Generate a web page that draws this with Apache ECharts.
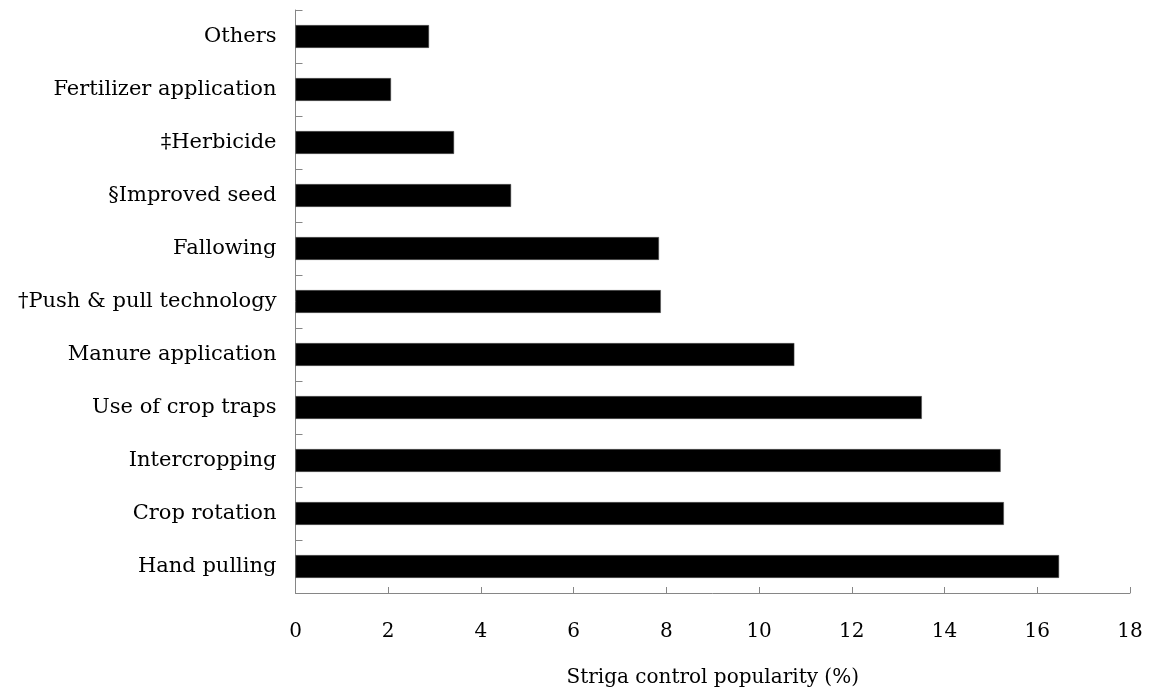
<!DOCTYPE html>
<html>
<head>
<meta charset="utf-8">
<script src="https://cdn.jsdelivr.net/npm/echarts@6/dist/echarts.min.js"></script>
<style>
html,body{margin:0;padding:0;background:#fff;}
#chart{width:1149px;height:687px;}
</style>
</head>
<body>
<div id="chart"></div>
<script>
const categories = ["Others","Fertilizer application","\u2021Herbicide","\u00a7Improved seed","Fallowing","\u2020Push & pull technology","Manure application","Use of crop traps","Intercropping","Crop rotation","Hand pulling"];
const values = [2.88, 2.06, 3.42, 4.65, 7.84, 7.88, 10.76, 13.51, 15.21, 15.28, 16.47];
const xTicks = {min: 0, max: 18, interval: 2};
const xTitle = "Striga control popularity (%)";

const font = "'DejaVu Serif', 'Liberation Serif', serif";
const chart = echarts.init(document.getElementById('chart'), null, {renderer: 'canvas'});
chart.setOption({
  animation: false,
  backgroundColor: '#fff',
  grid: {left: 295.5, right: 19, top: 10, bottom: 94, containLabel: false, outerBoundsMode: 'none'},
  xAxis: {
    type: 'value', min: xTicks.min, max: xTicks.max, interval: xTicks.interval,
    name: xTitle, nameLocation: 'middle', nameGap: 75,
    nameTextStyle: {fontFamily: font, fontSize: 20, color: '#000'},
    axisLine: {show: true, lineStyle: {color: '#868686', width: 1}},
    axisTick: {show: true, inside: true, length: 6, lineStyle: {color: '#868686'}},
    axisLabel: {margin: 29, fontFamily: font, fontSize: 20, color: '#000'},
    splitLine: {show: false}
  },
  yAxis: {
    type: 'category', data: categories, inverse: true,
    axisLine: {show: true, lineStyle: {color: '#868686', width: 1}},
    axisTick: {show: true, inside: true, length: 7, alignWithLabel: false, lineStyle: {color: '#868686'}},
    axisLabel: {margin: 19, fontFamily: font, fontSize: 21, color: '#000'},
    splitLine: {show: false}
  },
  series: [{
    type: 'bar', data: values, barCategoryGap: '57%',
    itemStyle: {color: '#000', borderColor: '#555', borderWidth: 0.5}
  }]
});
</script>
</body>
</html>
